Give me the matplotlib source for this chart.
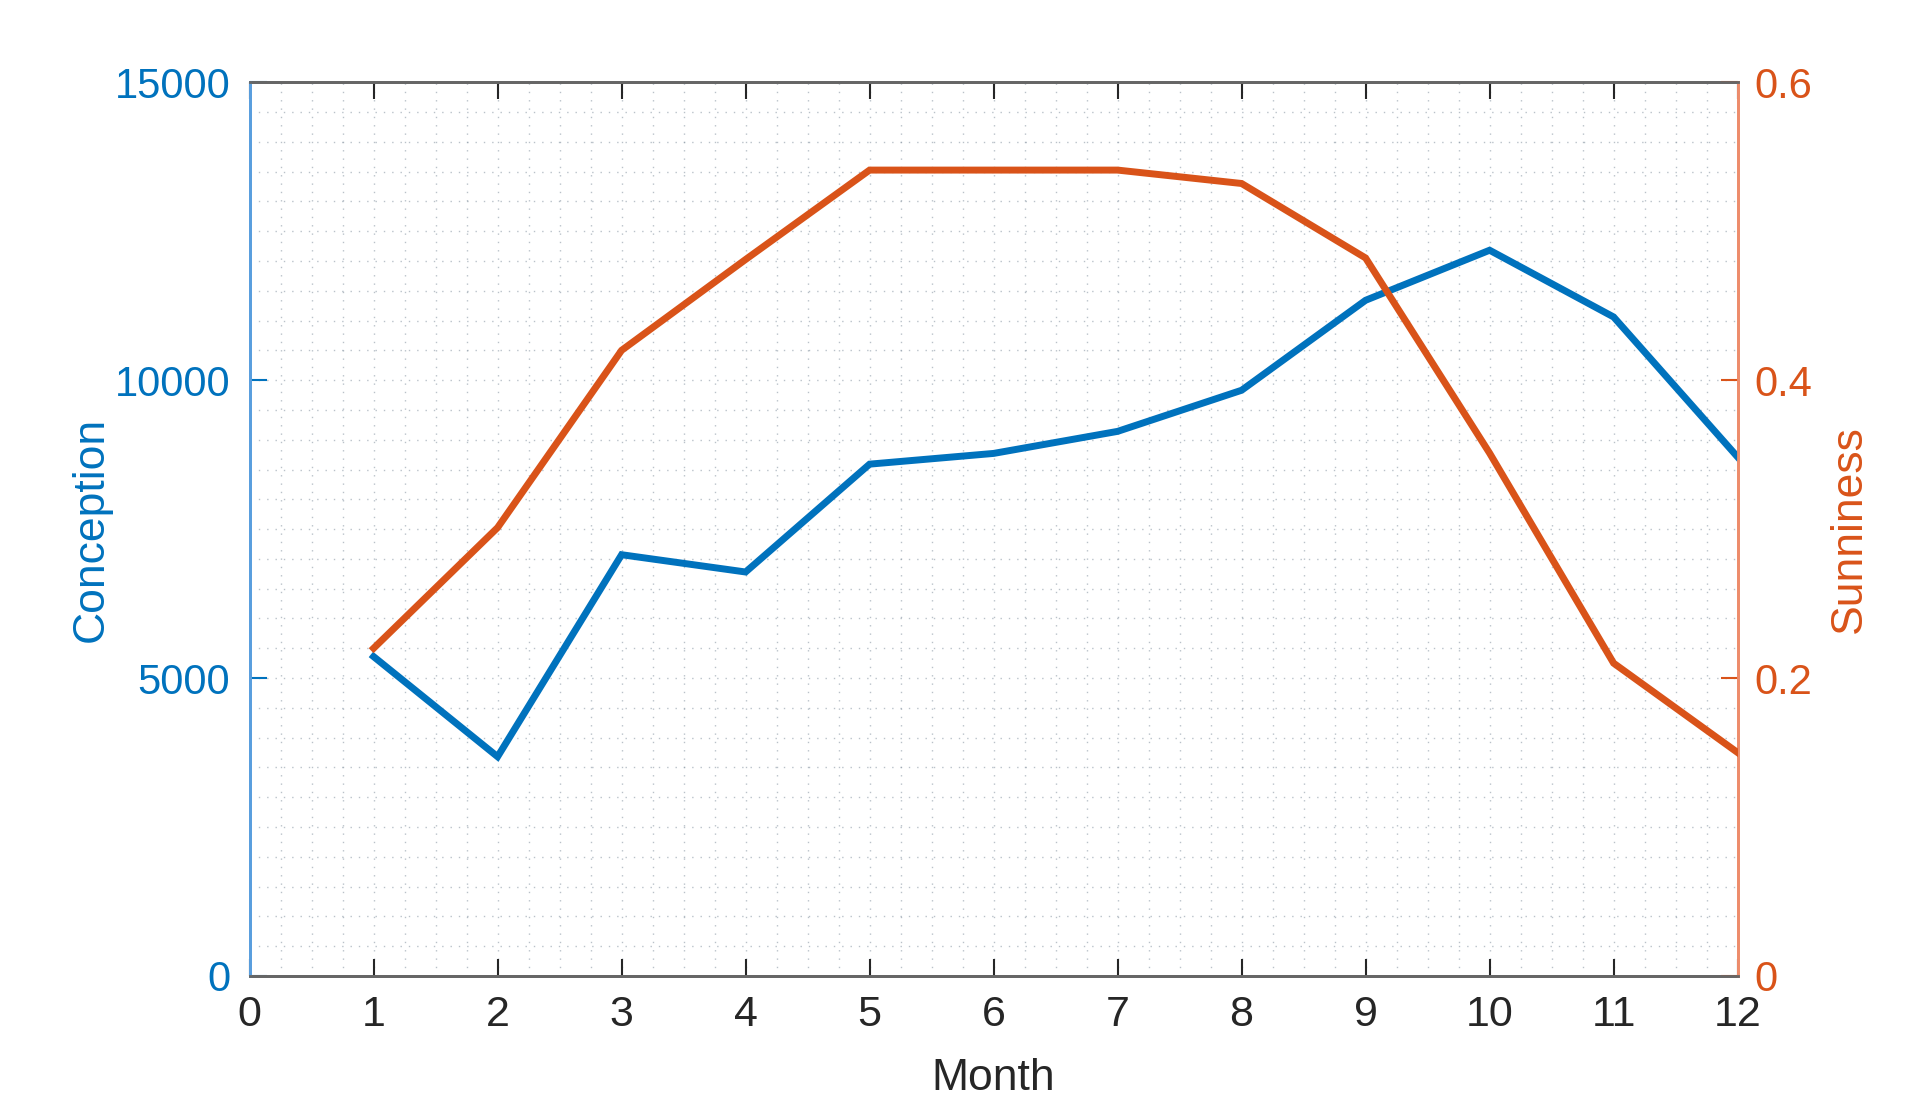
import matplotlib
matplotlib.use("Agg")

import matplotlib.pyplot as plt
from matplotlib.ticker import MultipleLocator

# data
months = [1, 2, 3, 4, 5, 6, 7, 8, 9, 10, 11, 12]
conception = [5360, 3680, 7070, 6780, 8590, 8770, 9140, 9830, 11340, 12180, 11060, 8710]
sunniness = [0.220, 0.301, 0.420, 0.481, 0.541, 0.541, 0.541, 0.532, 0.482, 0.351, 0.210, 0.150]

left_ticks = [0, 5000, 10000, 15000]
right_ticks = [0, 0.2, 0.4, 0.6]
right_labels = ["0", "0.2", "0.4", "0.6"]

blue = (0.0, 0.447, 0.741)
orange = (0.851, 0.325, 0.098)
dark = (0.15, 0.15, 0.15)

plt.rcParams["font.family"] = ["Liberation Sans", "DejaVu Sans"]

fig = plt.figure(figsize=(19.2, 10.96), dpi=100)
ax = fig.add_axes([0.130, 0.1095, 0.775, 0.8155])
ax2 = ax.twinx()

ax.plot(months, conception, color=blue, lw=5, solid_joinstyle="miter", zorder=3)
ax2.plot(months, sunniness, color=orange, lw=5, solid_joinstyle="miter", zorder=3)

ax.set_xlim(0, 12)
ax.set_ylim(0, 15000)
ax2.set_ylim(0, 0.6)

ax.set_xticks(range(0, 13))
ax.set_yticks(left_ticks)
ax.set_yticklabels([str(t) for t in left_ticks])
ax2.set_yticks(right_ticks)
ax2.set_yticklabels(right_labels)

# grid (major + minor, dotted)
ax.xaxis.set_minor_locator(MultipleLocator(0.25))
ax.yaxis.set_minor_locator(MultipleLocator(500))
ax.grid(True, which="both", linestyle=(0, (1, 5)), color=(0.55, 0.6, 0.65), lw=1.0, alpha=0.6)
ax.set_axisbelow(True)
ax.tick_params(which="minor", length=0)
ax2.tick_params(which="minor", length=0)

# ticks
ax.tick_params(axis="x", which="major", direction="in", length=12, width=1.5,
               colors=dark, labelsize=31, top=True, pad=14)
ax.tick_params(axis="y", which="major", direction="in", length=12, width=1.5,
               colors=blue, labelsize=30, pad=14)
ax2.tick_params(axis="y", which="major", direction="in", length=12, width=1.5,
                colors=orange, labelsize=30, pad=12)

# spines
for a in (ax, ax2):
    a.spines["top"].set_color((0.4, 0.4, 0.4))
    a.spines["bottom"].set_color((0.4, 0.4, 0.4))
    a.spines["top"].set_linewidth(2)
    a.spines["bottom"].set_linewidth(2)
    a.spines["left"].set_color((0.35, 0.62, 0.87))
    a.spines["right"].set_color((0.93, 0.55, 0.42))
    a.spines["left"].set_linewidth(2)
    a.spines["right"].set_linewidth(2)

ax.set_xlabel("Month", fontsize=32, color=dark, labelpad=16)
ax.set_ylabel("Conception", fontsize=32, color=blue, labelpad=2)
ax2.set_ylabel("Sunniness", fontsize=32, color=orange, labelpad=12)

fig.savefig("out.png", dpi=100, facecolor="white")
